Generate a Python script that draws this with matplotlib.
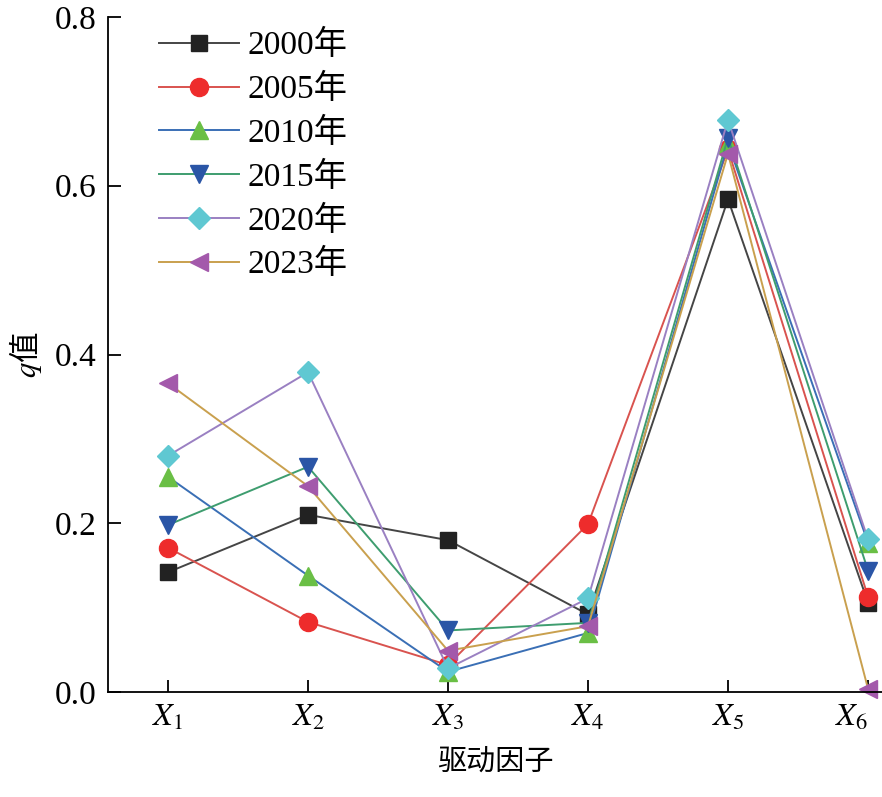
import matplotlib
matplotlib.use("Agg")
import matplotlib.pyplot as plt

factors = ["$X_1$", "$X_2$", "$X_3$", "$X_4$", "$X_5$", "$X_6$"]
years = ["2000年", "2005年", "2010年", "2015年", "2020年", "2023年"]

q_2000 = [0.142, 0.210, 0.180, 0.092, 0.584, 0.106]
q_2005 = [0.171, 0.083, 0.032, 0.199, 0.643, 0.113]
q_2010 = [0.255, 0.138, 0.024, 0.070, 0.650, 0.177]
q_2015 = [0.198, 0.267, 0.073, 0.082, 0.657, 0.144]
q_2020 = [0.280, 0.379, 0.028, 0.111, 0.678, 0.181]
q_2023 = [0.366, 0.244, 0.049, 0.078, 0.638, 0.004]

series = [q_2000, q_2005, q_2010, q_2015, q_2020, q_2023]
line_colors = ["#454545", "#d9534f", "#3a6fb5", "#3e9d6f", "#9a80c2", "#c9a04e"]
marker_colors = ["#222222", "#ee2c2c", "#6abf45", "#2a55a6", "#5fc8d2", "#a359ab"]
markers = ["s", "o", "^", "v", "D", "<"]
marker_sizes = [11, 13, 13, 13, 11, 13]

plt.rcParams["font.family"] = ["Liberation Serif", "Noto Sans CJK SC"]
plt.rcParams["mathtext.fontset"] = "stix"

fig = plt.figure(figsize=(8.82, 7.97), dpi=100)
ax = fig.add_axes([0.1224, 0.1317, 0.8776, 0.847])

x = list(range(1, len(factors) + 1))
for vals, year, lc, mc, mk, ms in zip(series, years, line_colors, marker_colors, markers, marker_sizes):
    ax.plot(x, vals, color=lc, linewidth=1.4, marker=mk, markersize=ms,
            markerfacecolor=mc, markeredgecolor=mc, label=year, clip_on=False)

ax.set_xlim(0.571, 6.1)
ax.set_ylim(0, 0.8)
ax.set_xticks(x)
ax.set_xticklabels(factors, fontsize=23)
ax.set_yticks([0.0, 0.2, 0.4, 0.6, 0.8])
ax.set_yticklabels(["0.0", "0.2", "0.4", "0.6", "0.8"], fontsize=24)
ax.tick_params(direction="in", length=9, width=1.3, pad=8)
# nudge the last label so it stays inside the picture
ax.get_xticklabels()[-1].set_horizontalalignment("right")
ax.get_xticklabels()[-1].set_x(6.1)

ax.spines["top"].set_visible(False)
ax.spines["right"].set_visible(False)
ax.spines["left"].set_linewidth(1.3)
ax.spines["bottom"].set_linewidth(1.3)

ax.set_xlabel("驱动因子", fontsize=21, family="Noto Sans CJK SC", labelpad=10)
ax.set_ylabel("$q$值", fontsize=22, family="Noto Sans CJK SC", labelpad=8)

ax.legend(loc="upper left", bbox_to_anchor=(0.04, 1.01), frameon=False,
          fontsize=24, handlelength=2.4, handletextpad=0.25, labelspacing=0.38,
          borderaxespad=0.2)

fig.savefig("out.png", dpi=100)
